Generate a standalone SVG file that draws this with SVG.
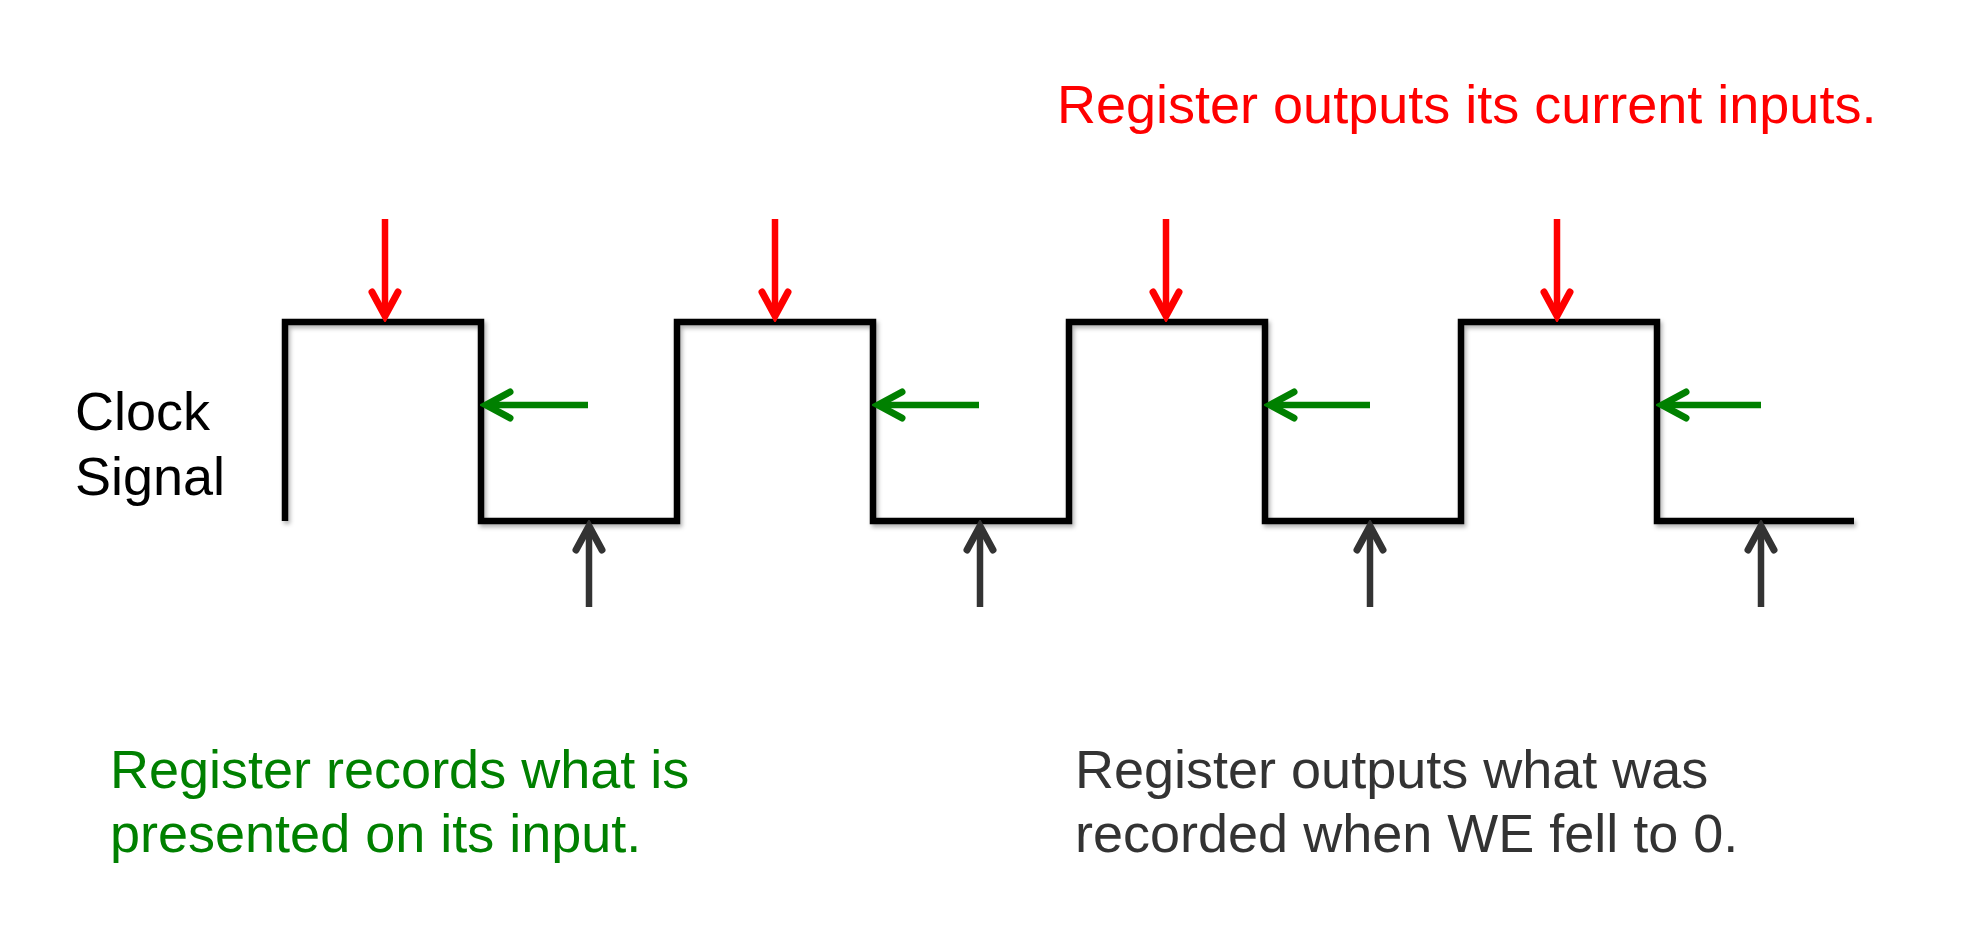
<svg xmlns="http://www.w3.org/2000/svg" width="1972" height="938" viewBox="0 0 1972 938">
  <style>
    text { font-family: "Liberation Sans", Arial, sans-serif; font-size: 54px; }
    .red { fill: #FF0000; }
    .green { fill: #008000; }
    .dark { fill: #333333; }
    .black { fill: #000000; }
    .wave { fill: none; stroke: #000; stroke-width: 6.5; stroke-linejoin: miter; stroke-linecap: butt; }
    .ar { fill: none; stroke-width: 6.5; stroke-linecap: butt; }
    .ar-red { stroke: #FF0000; marker-end: url(#mRed); }
    .ar-green { stroke: #008000; marker-end: url(#mGreen); }
    .ar-dark { stroke: #333333; marker-end: url(#mDark); }
  </style>
  <defs>
    <filter id="shadow" x="-5%" y="-10%" width="110%" height="130%">
      <feDropShadow dx="2" dy="3" stdDeviation="2" flood-color="#000" flood-opacity="0.3"/>
    </filter>
    <marker id="mRed" viewBox="-32 -18 38 36" refX="0" refY="0" markerWidth="38" markerHeight="36" markerUnits="userSpaceOnUse" orient="auto">
      <path d="M-24,-13 L0,0 L-24,13" fill="none" stroke="#FF0000" stroke-width="7" stroke-linecap="round" stroke-linejoin="miter"/>
    </marker>
    <marker id="mGreen" viewBox="-32 -18 38 36" refX="0" refY="0" markerWidth="38" markerHeight="36" markerUnits="userSpaceOnUse" orient="auto">
      <path d="M-24,-13 L0,0 L-24,13" fill="none" stroke="#008000" stroke-width="7" stroke-linecap="round" stroke-linejoin="miter"/>
    </marker>
    <marker id="mDark" viewBox="-32 -18 38 36" refX="0" refY="0" markerWidth="38" markerHeight="36" markerUnits="userSpaceOnUse" orient="auto">
      <path d="M-24,-13 L0,0 L-24,13" fill="none" stroke="#333333" stroke-width="7" stroke-linecap="round" stroke-linejoin="miter"/>
    </marker>
  </defs>
  <rect width="1972" height="938" fill="#FFFFFF"/>

  <g id="clock-signal">
    <path class="wave" filter="url(#shadow)" d="M285,521 V322 H481 V521 H677 V322 H873 V521 H1069 V322 H1265 V521 H1461 V322 H1657 V521 H1854"/>
  </g>

  <g id="label-clock">
    <text class="black" x="75" y="430">Clock</text>
    <text class="black" x="75" y="495">Signal</text>
  </g>

  <g id="label-red">
    <text class="red" x="1057" y="123">Register outputs its current inputs.</text>
  </g>

  <g id="label-green">
    <text class="green" x="110" y="788">Register records what is</text>
    <text class="green" x="110" y="852">presented on its input.</text>
  </g>

  <g id="label-dark">
    <text class="dark" x="1075" y="788">Register outputs what was</text>
    <text class="dark" x="1075" y="852">recorded when WE fell to 0.</text>
  </g>

  <g id="connectors">
    <path class="ar ar-red" d="M385,219 V316"/>
    <path class="ar ar-red" d="M775,219 V316"/>
    <path class="ar ar-red" d="M1166,219 V316"/>
    <path class="ar ar-red" d="M1557,219 V316"/>

    <path class="ar ar-green" d="M588,405 H486"/>
    <path class="ar ar-green" d="M979,405 H878"/>
    <path class="ar ar-green" d="M1370,405 H1270"/>
    <path class="ar ar-green" d="M1761,405 H1662"/>

    <path class="ar ar-dark" d="M589,607 V526"/>
    <path class="ar ar-dark" d="M980,607 V526"/>
    <path class="ar ar-dark" d="M1370,607 V526"/>
    <path class="ar ar-dark" d="M1761,607 V526"/>
  </g>
</svg>
